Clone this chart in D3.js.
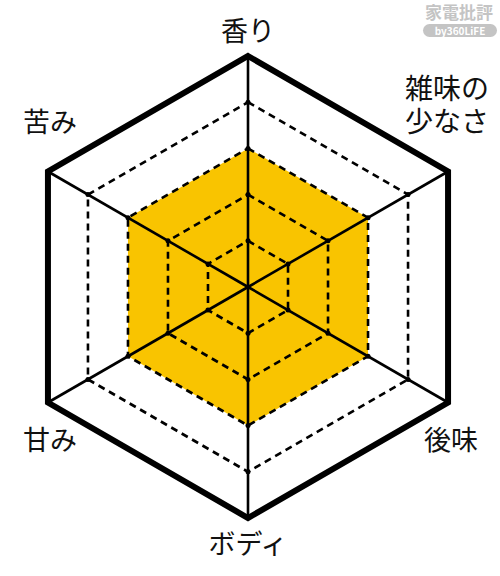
<!DOCTYPE html>
<html>
<head>
<meta charset="utf-8">
<script src="https://cdn.jsdelivr.net/npm/d3@7"></script>
<style>
  body { margin: 0; background: #fff; }
  text { font-family: "Noto Sans CJK JP", "Noto Sans", sans-serif; }
</style>
</head>
<body>
<svg id="chart" width="500" height="576"></svg>
<script>
// axes clockwise from top
const axes = ["香り", "雑味の少なさ", "後味", "ボディ", "甘み", "苦み"]
const values = [3, 3, 3, 3, 3, 3]
const levels = [1, 2, 3, 4, 5]
const maxLevel = 5

const svg = d3.select("#chart")
const cx = 248, cy = 287, R = 231

const r = d3.scaleLinear().domain([0, maxLevel]).range([0, R])
const angle = d3.scalePoint().domain(axes).range([0, 2 * Math.PI * 5 / 6])

const pt = (a, v) => {
  const t = angle(a) - Math.PI / 2
  return [cx + r(v) * Math.cos(t), cy + r(v) * Math.sin(t)]
}

const line = d3.line().curve(d3.curveLinearClosed)

// data polygon
svg.append("path")
  .attr("d", line(axes.map((a, i) => pt(a, values[i]))))
  .attr("fill", "#f9c400")

// dashed rings
svg.selectAll(".ring")
  .data(levels.filter(l => l < maxLevel))
  .enter()
  .append("path")
  .attr("class", "ring")
  .attr("d", l => line(axes.map(a => pt(a, l))))
  .attr("fill", "none")
  .attr("stroke", "#000")
  .attr("stroke-width", 2.6)
  .attr("stroke-dasharray", "7,5")

// axes
svg.selectAll(".axis")
  .data(axes)
  .enter()
  .append("line")
  .attr("class", "axis")
  .attr("x1", cx).attr("y1", cy)
  .attr("x2", a => pt(a, maxLevel)[0])
  .attr("y2", a => pt(a, maxLevel)[1])
  .attr("stroke", "#000")
  .attr("stroke-width", 2.6)

// tick dots
const dots = []
axes.forEach(a => levels.filter(l => l < maxLevel).forEach(l => dots.push(pt(a, l))))
svg.selectAll(".dot")
  .data(dots)
  .enter()
  .append("circle")
  .attr("cx", d => d[0]).attr("cy", d => d[1])
  .attr("r", 2.5)
  .attr("fill", "#000")

// outer hexagon
svg.append("path")
  .attr("d", line(axes.map(a => pt(a, maxLevel))))
  .attr("fill", "none")
  .attr("stroke", "#000")
  .attr("stroke-width", 6)
  .attr("stroke-linejoin", "miter")

// labels (lines per label)
const labelLines = {
  "香り": ["香り"],
  "雑味の少なさ": ["雑味の", "少なさ"],
  "後味": ["後味"],
  "ボディ": ["ボディ"],
  "甘み": ["甘み"],
  "苦み": ["苦み"]
}
const labelPos = {
  "香り": [248, 41],
  "雑味の少なさ": [447, 99],
  "後味": [451, 450],
  "ボディ": [248, 554],
  "甘み": [50, 450],
  "苦み": [50, 132]
}

axes.forEach(a => {
  const [x, y] = labelPos[a]
  labelLines[a].forEach((s, i) => {
    svg.append("text")
      .attr("x", x).attr("y", y + i * 33)
      .attr("text-anchor", "middle")
      .attr("font-size", a === "雑味の少なさ" ? 28 : 27)
      .attr("fill", "#111")
      .text(s)
  })
})

// watermark
svg.append("text")
  .attr("x", 459).attr("y", 19)
  .attr("text-anchor", "middle")
  .attr("font-size", 17)
  .attr("font-weight", "bold")
  .attr("fill", "#c4c4c4")
  .text("家電批評")
svg.append("rect")
  .attr("x", 423).attr("y", 24)
  .attr("width", 74).attr("height", 13)
  .attr("rx", 6.5)
  .attr("fill", "#c4c4c4")
svg.append("text")
  .attr("x", 460).attr("y", 35)
  .attr("text-anchor", "middle")
  .attr("font-size", 10)
  .attr("font-weight", "bold")
  .attr("fill", "#fff")
  .text("by360LiFE")
</script>
</body>
</html>
